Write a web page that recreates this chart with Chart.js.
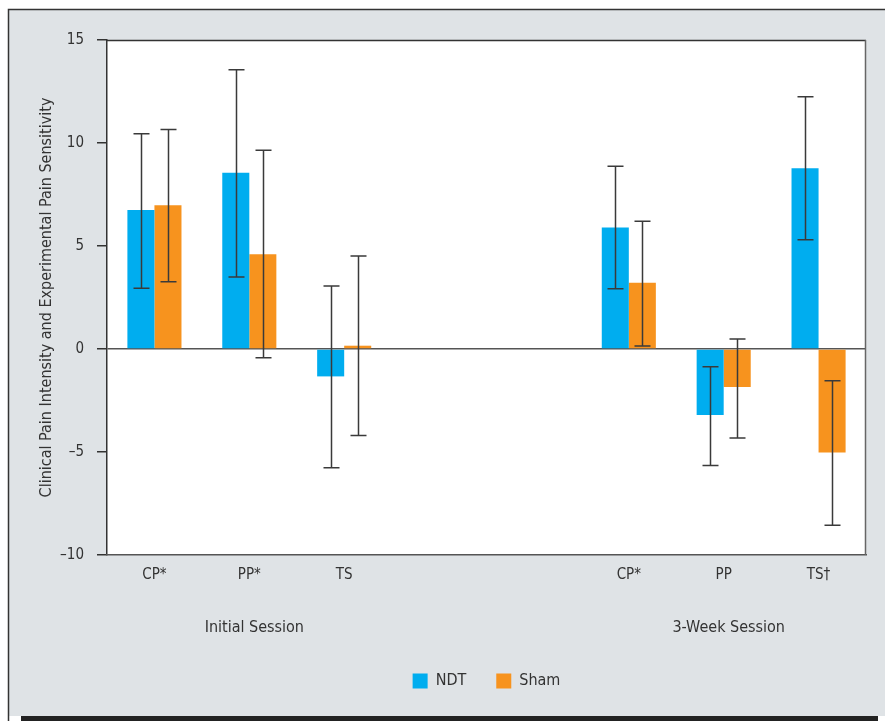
<!DOCTYPE html>
<html>
<head>
<meta charset="utf-8">
<script src="https://cdn.jsdelivr.net/npm/chart.js@4.4.1/dist/chart.umd.min.js"></script>
<style>
  html, body { margin: 0; padding: 0; background: #fff; }
  canvas { display: block; }
</style>
</head>
<body>
<canvas id="pain-chart" width="885" height="721"></canvas>
<script>
  const FONT = "'Liberation Sans Narrow', 'DejaVu Sans Condensed', 'Roboto', sans-serif";
  const INK = '#333';

  // --- values ---
  const categories = ['CP*', 'PP*', 'TS', '', '', 'CP*', 'PP', 'TS\u2020'];
  const sessionLabels = ['', 'Initial Session', '', '', '', '', '3-Week Session', ''];
  const yTicks = [-10, -5, 0, 5, 10, 15];

  const ndtMean = [6.75, 8.55, -1.33, null, null, 5.9, -3.2, 8.77];
  const ndtLow  = [2.95, 3.5, -5.77, null, null, 2.92, -5.66, 5.3];
  const ndtHigh = [10.45, 13.55, 3.06, null, null, 8.87, -0.86, 12.24];

  const shamMean = [6.98, 4.6, 0.16, null, null, 3.21, -1.85, -5.02];
  const shamLow  = [3.26, -0.42, -4.2, null, null, 0.15, -4.32, -8.56];
  const shamHigh = [10.65, 9.65, 4.52, null, null, 6.2, 0.48, -1.54];

  const errorRanges = [[ndtLow, ndtHigh], [shamLow, shamHigh]];

  // panel background, frame and bottom rule
  const panelBackdrop = {
    id: 'panelBackdrop',
    afterLayout(chart) {
      // centre the legend under the plot area rather than the canvas
      const lg = chart.legend, a = chart.chartArea;
      const shift = (a.left + a.right) / 2 - (lg.left + lg.right) / 2;
      lg.left += shift;
      lg.right += shift;
    },
    beforeDraw(chart) {
      const c = chart.ctx, a = chart.chartArea;
      c.save();
      c.fillStyle = '#fff';
      c.fillRect(0, 0, chart.width, chart.height);
      c.fillStyle = '#dfe3e6';
      c.fillRect(9, 10, chart.width - 9, 706);
      c.strokeStyle = INK;
      c.lineWidth = 1.5;
      c.beginPath();
      c.moveTo(8.5, chart.height);
      c.lineTo(8.5, 9.5);
      c.lineTo(chart.width, 9.5);
      c.stroke();
      c.fillStyle = '#222';
      c.fillRect(21, 716, 857, 5);
      c.fillStyle = '#fff';
      c.fillRect(a.left, a.top, a.right - a.left, a.bottom - a.top);
      c.restore();
    },
    beforeDatasetsDraw(chart) {
      const c = chart.ctx, a = chart.chartArea;
      c.save();
      c.lineWidth = 1.5;
      c.strokeStyle = INK;
      c.beginPath();
      c.moveTo(a.left, a.top + 0.5);
      c.lineTo(a.right, a.top + 0.5);
      c.stroke();
      c.strokeStyle = '#666';
      c.beginPath();
      c.moveTo(a.right - 0.5, a.top);
      c.lineTo(a.right - 0.5, a.bottom);
      c.stroke();
      c.restore();
    }
  };

  // whiskers with caps
  const errorWhiskers = {
    id: 'errorWhiskers',
    afterDatasetsDraw(chart) {
      const c = chart.ctx, y = chart.scales.y;
      c.save();
      c.strokeStyle = '#3a3a3a';
      c.lineWidth = 1.5;
      chart.data.datasets.forEach((ds, di) => {
        const [low, high] = errorRanges[di];
        chart.getDatasetMeta(di).data.forEach((bar, i) => {
          if (low[i] == null) return;
          const x = Math.round(bar.x) + 0.5;
          const yLo = y.getPixelForValue(low[i]), yHi = y.getPixelForValue(high[i]);
          c.beginPath();
          c.moveTo(x, yLo); c.lineTo(x, yHi);
          c.moveTo(x - 8, yLo); c.lineTo(x + 8, yLo);
          c.moveTo(x - 8, yHi); c.lineTo(x + 8, yHi);
          c.stroke();
        });
      });
      c.restore();
    }
  };

  new Chart(document.getElementById('pain-chart').getContext('2d'), {
    type: 'bar',
    data: {
      labels: categories,
      datasets: [
        { label: 'NDT', data: ndtMean, backgroundColor: '#00adef', borderWidth: 0 },
        { label: 'Sham', data: shamMean, backgroundColor: '#f7931e', borderWidth: 0 }
      ]
    },
    plugins: [panelBackdrop, errorWhiskers],
    options: {
      responsive: false,
      animation: false,
      devicePixelRatio: 1,
      categoryPercentage: 0.57,
      barPercentage: 1,
      layout: { padding: { top: 40, right: 19, left: 0, bottom: 22 } },
      plugins: {
        tooltip: { enabled: false },
        legend: {
          position: 'bottom',
          labels: {
            color: INK, boxWidth: 15, boxHeight: 15, padding: 30,
            font: { family: FONT, size: 16 }
          }
        }
      },
      scales: {
        y: {
          min: -10, max: 15,
          afterBuildTicks: s => { s.ticks = yTicks.map(v => ({ value: v })); },
          afterFit: s => { s.width = 107; },
          border: { color: INK, width: 1.5 },
          grid: {
            drawOnChartArea: true, drawTicks: true, tickLength: 10,
            color: ctx => ctx.tick && ctx.tick.value === 0 ? '#555' : 'transparent',
            tickColor: INK, lineWidth: 1.5
          },
          ticks: {
            color: INK, padding: 13,
            font: { family: FONT, size: 15 },
            callback: v => String(v).replace('-', '\u2013')
          },
          title: {
            display: true,
            text: 'Clinical Pain Intensity and Experimental Pain Sensitivity',
            color: INK,
            font: { family: FONT, size: 16 },
            padding: { top: 37, bottom: 0 }
          }
        },
        x: {
          afterFit: s => { s.height = 42; },
          border: { color: '#555', width: 1.5 },
          grid: { display: false, drawTicks: false },
          ticks: { color: INK, padding: 11, maxRotation: 0, autoSkip: false, font: { family: FONT, size: 15 } }
        },
        x2: {
          type: 'category',
          position: 'bottom',
          labels: sessionLabels,
          offset: true,
          afterFit: s => { s.height = 46; },
          border: { display: false },
          grid: { display: false, drawTicks: false },
          ticks: { color: INK, padding: 21, labelOffset: 5, maxRotation: 0, autoSkip: false, font: { family: FONT, size: 16 } }
        }
      }
    }
  });
</script>
</body>
</html>
